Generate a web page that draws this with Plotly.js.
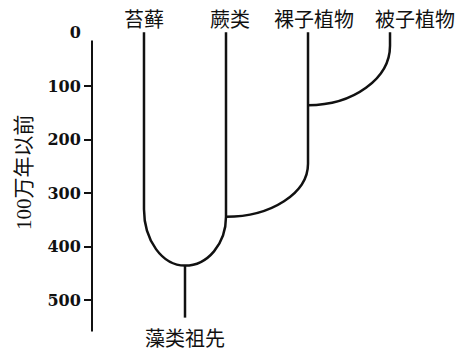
<!DOCTYPE html>
<html><head><meta charset="utf-8">
<script src="https://cdn.plot.ly/plotly-3.0.1.min.js"></script>
<style>html,body{margin:0;padding:0;background:#fff}#chart{width:463px;height:352px}</style>
</head><body><div id="chart"></div>
<script>
// ---- data (ages in millions of years before present) ----
const taxa = ['苔藓', '蕨类', '裸子植物', '被子植物'];
const tipAges = [0, 0, 0, 0];
const bendAges = [330, 344, 245, 25];      // age where each lineage starts curving toward its ancestor
const parentOf = ['root', 'root', 1, 2];   // which lineage each one joins
const nodeAges = [435, 435, 344, 136];     // age of the node where each lineage joins
const ancestorName = '藻类祖先';
const rootAge = 532;
const yTickVals = [100, 200, 300, 400, 500];
const yTickText = ['100', '200', '300', '400', '500'];
const yZeroTick = [0];
const yTitle = '100万年以前';

// ---- layout constants ----
const INK = '#111';
const K = 0.5523;
const labelNudge = [0, 4, 6, 25];
const rootLane = 0.5;

function laneOf(p) { return p === 'root' ? rootLane : p; }

const shapes = [];
taxa.forEach((t, i) => {
  const xr = i, xp = laneOf(parentOf[i]);
  const b = bendAges[i], n = nodeAges[i];
  const d = `M${xr},${tipAges[i]} L${xr},${b} C${xr},${b + K * (n - b)} ${xp + K * (xr - xp)},${n} ${xp},${n}`;
  shapes.push({type: 'path', xref: 'x', yref: 'y', path: d, line: {color: INK, width: 2.5}});
});
shapes.push({type: 'path', xref: 'x', yref: 'y',
  path: `M${rootLane},${nodeAges[0]} L${rootLane},${rootAge}`, line: {color: INK, width: 2.5}});
// y axis line
shapes.push({type: 'line', xref: 'paper', yref: 'y', x0: 0, x1: 0, y0: 15, y1: 558,
  line: {color: INK, width: 2}});

const annotations = taxa.map((t, i) => ({
  text: t, x: i, xref: 'x', y: 1.026, yref: 'paper', xanchor: 'center', yanchor: 'middle',
  xshift: labelNudge[i], showarrow: false,
  font: {family: 'Noto Sans CJK SC', size: 20, color: INK}
}));
annotations.push({text: ancestorName, x: rootLane, xref: 'x', y: 0.003, yref: 'paper',
  xanchor: 'center', yanchor: 'middle', showarrow: false,
  font: {family: 'Noto Sans CJK SC', size: 20, color: INK}});
annotations.push({text: yTitle, x: -0.183, xref: 'paper', y: 0.534, yref: 'paper',
  xanchor: 'center', yanchor: 'middle', textangle: -90, showarrow: false,
  font: {family: 'Liberation Serif, Noto Sans CJK SC', size: 21, color: INK}});

const tickFont = {family: 'DejaVu Serif', size: 16, weight: 'bold', color: INK};
const yRange = [570, -10];

const traces = [
  {x: [0], y: [0], mode: 'none', yaxis: 'y', hoverinfo: 'skip', showlegend: false},
  {x: [0], y: [0], mode: 'none', yaxis: 'y2', hoverinfo: 'skip', showlegend: false}
];

const layout = {
  width: 463, height: 352,
  margin: {l: 92, r: 0, t: 27, b: 14, pad: 0},
  paper_bgcolor: '#fff', plot_bgcolor: '#fff',
  showlegend: false, hovermode: false,
  xaxis: {range: [-0.634, 3.89], visible: false, fixedrange: true},
  yaxis: {range: yRange, tickvals: yTickVals, ticktext: yTickText, ticks: 'outside',
    ticklen: 7, tickwidth: 2, tickcolor: INK, showline: false, showgrid: false,
    zeroline: false, tickfont: tickFont, fixedrange: true},
  yaxis2: {range: yRange, overlaying: 'y', side: 'left', tickvals: yZeroTick, ticktext: ['0'],
    ticks: 'outside', ticklen: 7, tickwidth: 2, tickcolor: 'rgba(0,0,0,0)',
    showline: false, showgrid: false, zeroline: false, tickfont: tickFont, fixedrange: true},
  shapes: shapes,
  annotations: annotations
};

Plotly.newPlot('chart', traces, layout, {displayModeBar: false, staticPlot: true});
</script>
</body></html>
